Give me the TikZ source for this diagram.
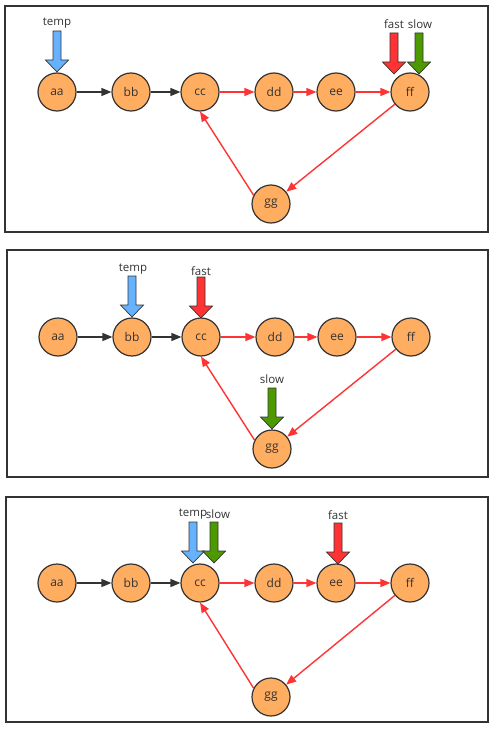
\documentclass[tikz,border=0pt]{standalone}
\usepackage{fontspec}
\setmainfont{Open Sans}
\usetikzlibrary{arrows.meta}
\definecolor{nodefill}{HTML}{FFAD60}
\definecolor{edgedark}{HTML}{333333}
\definecolor{edgered}{HTML}{FF3333}
\definecolor{ptrblue}{HTML}{66B2FF}
\definecolor{ptrred}{HTML}{FF3333}
\definecolor{ptrgreen}{HTML}{4D9900}
\definecolor{textcol}{HTML}{333333}
\tikzset{
  x=1pt, y=-1pt,
  vx/.style={circle, draw=edgedark, fill=nodefill, line width=1.2pt, minimum size=38pt, inner sep=0pt,
    font=\fontsize{12}{13}\selectfont, text=textcol},
  blkedge/.style={draw=edgedark, line width=1.4pt, -{Triangle[length=10pt,width=8pt]}},
  rededge/.style={draw=edgered, line width=1.4pt, -{Triangle[length=10pt,width=8pt]}},
  framebox/.style={draw=edgedark, line width=1.4pt},
  lbl/.style={font=\fontsize{11.5}{12}\selectfont, text=textcol, inner sep=0pt},
  pics/pointer/.style={code={
    \filldraw[fill=#1, draw=edgedark, line width=0.7pt]
      (-4,0) -- (-4,29) -- (-11.5,29) -- (0,41) -- (11.5,29) -- (4,29) -- (4,0) -- cycle;
  }}
}
\begin{document}
\begin{tikzpicture}
\useasboundingbox (0,0) rectangle (500,733);
% ---------- panel 1 ----------
\begin{scope}[shift={(0,6)}]
  \draw[framebox] (5,0) rectangle (488,226);
  \node[vx] (a1) at (57,86) {aa};
  \node[vx] (b1) at (131,86) {bb};
  \node[vx] (c1) at (200,86) {cc};
  \node[vx] (d1) at (274,86) {dd};
  \node[vx] (e1) at (336,86) {ee};
  \node[vx] (f1) at (410,86) {ff};
  \node[vx] (g1) at (271,198) {gg};
  \draw[blkedge] (a1) -- (b1);
  \draw[blkedge] (b1) -- (c1);
  \draw[rededge] (c1) -- (d1);
  \draw[rededge] (d1) -- (e1);
  \draw[rededge] (e1) -- (f1);
  \draw[rededge] (f1) -- (g1);
  \draw[rededge] (g1.153) -- (c1.south);
  \pic at (57,25) {pointer=ptrblue};
  \node[lbl] (t1) at (57,17) {temp};
  \pic at (394,27) {pointer=ptrred};
  \node[lbl] (fa1) at (394,18) {fast};
  \pic at (419,27) {pointer=ptrgreen};
  \node[lbl] (s1) at (420,18) {slow};
\end{scope}
% ---------- panel 2 ----------
\begin{scope}[shift={(0,250)}]
  \draw[framebox] (7,0) rectangle (488,227);
  \node[vx] (a2) at (58,87) {aa};
  \node[vx] (b2) at (132,87) {bb};
  \node[vx] (c2) at (201,87) {cc};
  \node[vx] (d2) at (275,87) {dd};
  \node[vx] (e2) at (337,87) {ee};
  \node[vx] (f2) at (411,87) {ff};
  \node[vx] (g2) at (272,199) {gg};
  \draw[blkedge] (a2) -- (b2);
  \draw[blkedge] (b2) -- (c2);
  \draw[rededge] (c2) -- (d2);
  \draw[rededge] (d2) -- (e2);
  \draw[rededge] (e2) -- (f2);
  \draw[rededge] (f2) -- (g2);
  \draw[rededge] (g2.153) -- (c2.south);
  \pic at (132,26) {pointer=ptrblue};
  \node[lbl] (t2) at (133,19) {temp};
  \pic at (201,27) {pointer=ptrred};
  \node[lbl] (fa2) at (201,21) {fast};
  \pic at (272,138) {pointer=ptrgreen};
  \node[lbl] (s2) at (272,129) {slow};
\end{scope}
% ---------- panel 3 ----------
\begin{scope}[shift={(0,497)}]
  \draw[framebox] (6,0) rectangle (488,225);
  \node[vx] (a3) at (57,86) {aa};
  \node[vx] (b3) at (131,86) {bb};
  \node[vx] (c3) at (200,86) {cc};
  \node[vx] (d3) at (274,86) {dd};
  \node[vx] (e3) at (336,86) {ee};
  \node[vx] (f3) at (410,86) {ff};
  \node[vx] (g3) at (271,200) {gg};
  \draw[blkedge] (a3) -- (b3);
  \draw[blkedge] (b3) -- (c3);
  \draw[rededge] (c3) -- (d3);
  \draw[rededge] (d3) -- (e3);
  \draw[rededge] (e3) -- (f3);
  \draw[rededge] (f3) -- (g3);
  \draw[rededge] (g3.153) -- (c3.south);
  \pic at (193,25) {pointer=ptrblue};
  \node[lbl] (t3) at (193,17) {temp};
  \pic at (214,25) {pointer=ptrgreen};
  \node[lbl] (s3) at (218,17) {slow};
  \pic at (338,26) {pointer=ptrred};
  \node[lbl] (fa3) at (338,18) {fast};
\end{scope}
\end{tikzpicture}
\end{document}
